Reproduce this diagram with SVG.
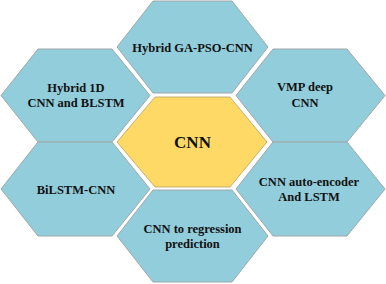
<svg xmlns="http://www.w3.org/2000/svg" width="386" height="284" viewBox="0 0 386 284">
<style>
.hx{fill:#92CDDC;stroke:#9FA8AA;stroke-width:1}
.core{fill:#FFD966;stroke:#B8A060;stroke-width:0.8}
text{font-family:"Liberation Serif","Times New Roman",serif;font-weight:bold;fill:#111;text-anchor:middle}
.t{font-size:12.5px}
.c{font-size:17px}
</style>
<rect width="386" height="284" fill="#FFFFFF"/>
<g id="connectors"/>
<g id="n-top">
<polygon class="hx" points="117,47 153,1 232,1 268,47 232,93 153,93"/>
<text class="t" x="192.5" y="51.5">Hybrid GA-PSO-CNN</text>
</g>
<g id="n-lefttop">
<polygon class="hx" points="1,95.5 38,49 112,49 150,95.5 112,142 38,142"/>
<text class="t" x="76" y="91.5">Hybrid 1D</text>
<text class="t" x="76" y="107.3">CNN and BLSTM</text>
</g>
<g id="n-leftbottom">
<polygon class="hx" points="1,189 38,142 112,142 150,189 112,236 38,236"/>
<text class="t" x="76" y="193.7">BiLSTM-CNN</text>
</g>
<g id="n-righttop">
<polygon class="hx" points="236,95.5 273,49 347,49 385,95.5 347,142 273,142"/>
<text class="t" x="305" y="91">VMP deep</text>
<text class="t" x="305" y="106.7">CNN</text>
</g>
<g id="n-rightbottom">
<polygon class="hx" points="236,189 273,142 347,142 385,189 347,236 273,236"/>
<text class="t" x="309" y="186">CNN auto-encoder</text>
<text class="t" x="309" y="201.3">And LSTM</text>
</g>
<g id="n-bottom">
<polygon class="hx" points="117,236 153,190 232,190 268,236 232,282 153,282"/>
<text class="t" x="192.5" y="233">CNN to regression</text>
<text class="t" x="192.5" y="248">prediction</text>
</g>
<g id="n-center">
<polygon class="core" points="117,142 155,97 230,97 267,142 230,187 155,187"/>
<text class="c" x="192.5" y="148">CNN</text>
</g>
</svg>
